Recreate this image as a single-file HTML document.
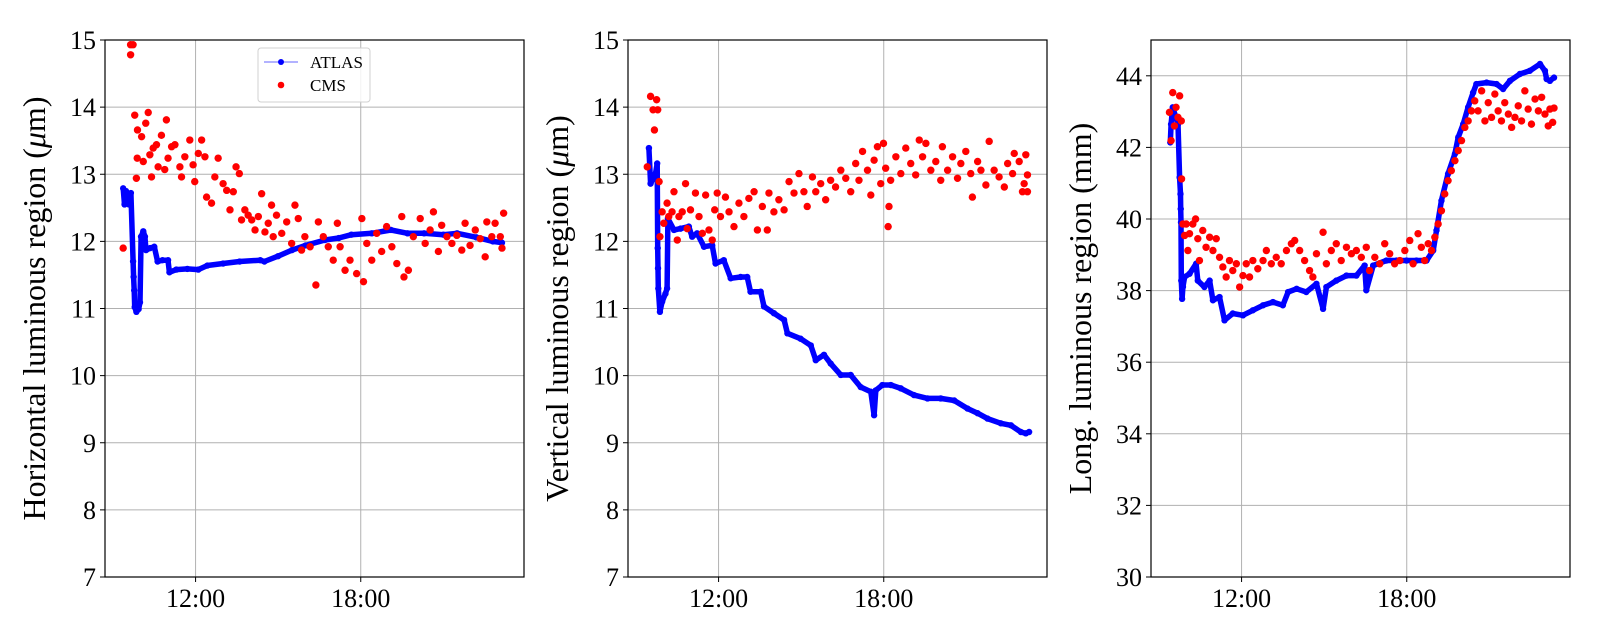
<!DOCTYPE html>
<html><head><meta charset="utf-8">
<style>
body{margin:0;background:#fff;}
svg{display:block;font-family:"Liberation Serif",serif;}
</style></head>
<body>
<svg id="chart" width="1600" height="640" viewBox="0 0 1600 640" xmlns="http://www.w3.org/2000/svg"></svg>
<script>
// ---------- data ----------
const xTickHours = [12, 18];
const xTickLabels = ["12:00", "18:00"];
const yTicks1 = [7,8,9,10,11,12,13,14,15];
const yTicks3 = [30,32,34,36,38,40,42,44];
const yLabelMain = ["Horizontal luminous region (", "Vertical luminous region (", "Long. luminous region (mm)"];
const yLabelUnit = ["\u03bc", "\u03bc", ""];
const yLabelTail = ["m)", "m)", ""];

const atlasH_t = [9.37,9.42,9.47,9.58,9.65,9.73,9.75,9.77,9.79,9.85,9.93,9.98,10.02,10.1,10.16,10.2,10.35,10.5,10.62,10.8,11.0,11.05,11.3,11.7,12.1,12.43,13.0,13.6,14.35,14.5,15.0,15.5,16.0,16.7,17.2,17.66,18.4,19.1,19.7,20.3,21.0,21.5,22.2,22.8,23.13];
const atlasH_v = [12.79,12.55,12.75,12.55,12.72,11.70,11.47,11.27,11.02,10.95,10.99,11.09,12.07,12.15,12.07,11.87,11.9,11.92,11.7,11.72,11.72,11.54,11.58,11.59,11.58,11.64,11.67,11.7,11.72,11.7,11.78,11.87,11.94,12.02,12.05,12.1,12.12,12.17,12.12,12.12,12.1,12.12,12.06,12.0,11.98];
const cmsH_t = [9.37,9.64,9.73,9.64,9.79,9.85,9.89,9.88,10.04,10.10,10.28,10.19,10.34,10.40,10.46,10.58,10.64,10.76,10.88,10.94,11.00,11.13,11.25,11.43,11.49,11.61,11.79,11.91,11.97,12.10,12.22,12.34,12.40,12.58,12.70,12.82,13.00,13.13,13.25,13.37,13.47,13.59,13.67,13.79,13.91,14.04,14.16,14.28,14.40,14.52,14.64,14.76,14.82,14.94,15.13,15.31,15.49,15.61,15.73,15.85,15.97,16.16,16.37,16.46,16.64,16.82,17.00,17.15,17.25,17.43,17.61,17.85,18.04,18.10,18.22,18.40,18.58,18.76,18.94,19.13,19.31,19.49,19.57,19.73,19.91,20.16,20.34,20.52,20.64,20.82,20.94,21.13,21.31,21.49,21.67,21.79,21.97,22.16,22.34,22.52,22.58,22.76,22.88,23.07,23.19,23.13];
const cmsH_v = [11.90,14.93,14.93,14.78,13.88,12.94,13.66,13.24,13.56,13.19,13.92,13.76,13.29,12.96,13.39,13.44,13.11,13.58,13.07,13.81,13.24,13.41,13.44,13.11,12.96,13.26,13.51,13.14,12.89,13.31,13.51,13.26,12.66,12.57,12.96,13.24,12.86,12.76,12.47,12.74,13.11,13.01,12.32,12.47,12.39,12.32,12.17,12.37,12.71,12.14,12.27,12.54,12.07,12.39,12.12,12.29,11.97,12.54,12.34,11.87,12.07,11.92,11.35,12.29,12.07,11.92,11.72,12.27,11.92,11.57,11.72,11.52,12.34,11.40,11.97,11.72,12.12,11.85,12.22,11.92,11.67,12.37,11.47,11.57,12.07,12.34,11.97,12.17,12.44,11.85,12.24,12.07,11.97,12.09,11.87,12.27,11.94,12.17,12.04,11.77,12.29,12.07,12.27,12.07,12.42,11.90];

const atlasV_t = [9.47,9.53,9.71,9.77,9.79,9.80,9.81,9.87,9.95,10.07,10.13,10.16,10.38,10.62,10.92,11.04,11.22,11.47,11.77,11.89,12.19,12.44,12.8,13.04,13.16,13.53,13.65,14.01,14.38,14.50,14.98,15.35,15.53,15.83,16.07,16.44,16.80,17.16,17.53,17.65,17.71,17.95,18.26,18.62,19.10,19.59,20.07,20.56,21.04,21.41,21.77,22.25,22.62,22.98,23.16,23.28];
const atlasV_v = [13.39,12.86,13.01,13.16,11.90,11.60,11.30,10.95,11.10,11.22,11.30,12.34,12.17,12.19,12.22,12.07,12.12,11.92,11.94,11.67,11.72,11.45,11.47,11.47,11.25,11.25,11.03,10.93,10.83,10.63,10.55,10.45,10.23,10.31,10.18,10.01,10.01,9.83,9.76,9.41,9.78,9.86,9.86,9.81,9.71,9.66,9.66,9.63,9.51,9.44,9.36,9.29,9.26,9.16,9.14,9.16];
const cmsV_t = [9.41,9.53,9.62,9.67,9.75,9.79,9.84,9.87,9.95,10.01,10.13,10.19,10.31,10.38,10.50,10.56,10.68,10.80,10.86,10.98,11.16,11.29,11.41,11.53,11.65,11.77,11.86,11.95,12.07,12.25,12.38,12.56,12.74,12.92,13.10,13.29,13.41,13.59,13.77,13.83,14.01,14.19,14.38,14.56,14.74,14.92,15.10,15.22,15.41,15.53,15.71,15.89,16.07,16.25,16.44,16.62,16.80,16.98,17.10,17.23,17.41,17.53,17.65,17.77,17.89,17.99,18.07,18.16,18.19,18.25,18.44,18.62,18.80,18.98,19.16,19.29,19.41,19.53,19.71,19.89,20.07,20.13,20.32,20.50,20.68,20.80,20.98,21.16,21.22,21.41,21.53,21.71,21.83,22.01,22.19,22.38,22.50,22.68,22.74,22.92,23.04,23.10,23.16,23.22,23.22];
const cmsV_v = [13.11,14.16,13.96,13.66,14.11,13.96,12.89,12.07,12.44,12.27,12.57,12.37,12.44,12.74,12.02,12.37,12.44,12.86,12.19,12.47,12.72,12.37,12.12,12.69,12.17,12.02,12.47,12.72,12.37,12.66,12.44,12.22,12.57,12.37,12.64,12.74,12.17,12.52,12.17,12.72,12.44,12.62,12.47,12.89,12.72,13.01,12.74,12.52,12.96,12.74,12.86,12.62,12.91,12.81,13.06,12.94,12.74,13.16,12.91,13.34,13.06,12.69,13.21,13.41,12.86,13.46,13.09,12.22,12.52,12.91,13.26,13.01,13.39,13.16,12.99,13.51,13.26,13.46,13.06,13.19,12.91,13.41,13.06,13.26,12.94,13.16,13.34,13.01,12.66,13.19,13.06,12.84,13.49,13.06,12.96,12.81,13.16,13.01,13.31,13.19,12.74,12.86,13.29,12.74,12.99];

const atlasL_t = [9.41,9.44,9.50,9.69,9.75,9.78,9.79,9.80,9.81,9.84,9.87,9.93,10.11,10.35,10.41,10.65,10.84,10.96,11.20,11.38,11.68,12.05,12.41,12.78,13.14,13.50,13.69,14.0,14.35,14.72,14.96,15.08,15.44,15.81,16.17,16.47,16.53,16.78,17.26,17.63,17.99,18.35,18.72,18.96,19.08,19.26,19.50,19.75,19.87,20.05,20.23,20.41,20.53,20.90,21.26,21.50,21.75,22.11,22.47,22.84,23.02,23.08,23.20,23.35];
const atlasL_v = [42.14,42.65,43.12,42.65,41.16,40.70,40.28,39.91,38.28,37.77,38.10,38.38,38.47,38.75,38.28,38.10,38.28,37.73,37.82,37.17,37.36,37.31,37.45,37.59,37.68,37.59,37.96,38.05,37.96,38.19,37.49,38.10,38.28,38.42,38.42,38.70,38.01,38.70,38.84,38.84,38.84,38.84,38.84,39.12,39.68,40.51,41.26,41.82,42.28,42.65,43.12,43.53,43.77,43.81,43.77,43.63,43.86,44.05,44.14,44.33,44.14,43.91,43.86,43.95];
const cmsL_t = [9.38,9.44,9.50,9.56,9.62,9.69,9.75,9.81,9.82,9.87,9.93,9.99,10.05,10.11,10.23,10.33,10.41,10.47,10.59,10.71,10.84,10.96,11.08,11.20,11.32,11.44,11.56,11.68,11.81,11.93,12.05,12.17,12.29,12.41,12.59,12.78,12.90,13.08,13.26,13.44,13.63,13.81,13.93,14.11,14.29,14.47,14.59,14.72,14.96,15.08,15.26,15.44,15.62,15.81,15.99,16.17,16.35,16.53,16.65,16.84,17.02,17.20,17.38,17.56,17.75,17.93,18.11,18.23,18.41,18.53,18.65,18.78,18.90,19.02,19.14,19.26,19.38,19.50,19.62,19.75,19.87,19.99,20.11,20.23,20.35,20.47,20.59,20.72,20.84,20.96,21.08,21.20,21.32,21.44,21.56,21.69,21.81,21.93,22.05,22.17,22.29,22.41,22.53,22.66,22.78,22.90,23.02,23.14,23.20,23.30,23.35];
const cmsL_v = [42.98,42.19,43.53,42.60,43.12,42.84,43.44,42.74,41.12,39.86,39.54,39.86,39.12,39.59,39.86,40.00,39.45,38.84,39.68,39.21,39.49,39.12,39.45,38.93,38.66,38.38,38.84,38.56,38.75,38.10,38.42,38.75,38.38,38.84,38.61,38.84,39.12,38.75,38.93,38.75,39.12,39.31,39.40,39.12,38.84,38.56,38.38,39.03,39.63,38.75,39.12,39.31,38.84,39.21,39.03,39.12,38.93,39.21,38.56,38.93,38.75,39.31,39.03,38.75,38.84,39.12,39.40,38.75,39.59,39.21,38.84,39.31,39.12,39.49,39.86,40.23,40.70,41.07,41.35,41.63,41.91,42.19,42.56,42.74,43.02,43.30,43.02,43.58,42.74,43.25,42.84,43.49,43.02,42.74,43.25,42.93,42.56,42.84,43.16,42.74,43.58,43.07,42.65,43.35,43.02,43.40,42.93,42.60,43.07,42.70,43.10];

// ---------- drawing ----------
const NS = "http://www.w3.org/2000/svg";
const svg = document.getElementById("chart");
const X0 = 8.71, X1 = 23.93;
const panels = [
  {left:105, yMin:7, yMax:15, ticks:yTicks1, li:0, atlas:[atlasH_t, atlasH_v], cms:[cmsH_t, cmsH_v], legend:true, key:"horizontal"},
  {left:628, yMin:7, yMax:15, ticks:yTicks1, li:1, atlas:[atlasV_t, atlasV_v], cms:[cmsV_t, cmsV_v], legend:false, key:"vertical"},
  {left:1151, yMin:30, yMax:45, ticks:yTicks3, li:2, atlas:[atlasL_t, atlasL_v], cms:[cmsL_t, cmsL_v], legend:false, key:"longitudinal"}
];
const W = 419, TOP = 40, BOT = 577;

function mk(tag, attrs, parent){
  const e = document.createElementNS(NS, tag);
  for (const k in attrs) e.setAttribute(k, attrs[k]);
  (parent || svg).appendChild(e);
  return e;
}

panels.forEach(p => {
  const xs = h => p.left + (h - X0) / (X1 - X0) * W;
  const ys = v => BOT - (v - p.yMin) / (p.yMax - p.yMin) * (BOT - TOP);
  const g = mk("g", {});
  
  

  p.ticks.forEach(t => {
    const y = ys(t);
    const ln = mk("line", {x1:p.left, x2:p.left+W, y1:y, y2:y, stroke:"#b0b0b0", "stroke-width":1}, g);
    
    
    const tk = mk("line", {x1:p.left-5, x2:p.left, y1:y, y2:y, stroke:"#000", "stroke-width":1}, g);
    
    
    const tx = mk("text", {x:p.left-9, y:y+9, "text-anchor":"end", "font-size":26, fill:"#000"}, g);
    
    
    tx.textContent = t;
  });
  xTickHours.forEach((h, i) => {
    const x = xs(h);
    const ln = mk("line", {x1:x, x2:x, y1:TOP, y2:BOT, stroke:"#b0b0b0", "stroke-width":1}, g);
    
    
    const tk = mk("line", {x1:x, x2:x, y1:BOT, y2:BOT+5, stroke:"#000", "stroke-width":1}, g);
    
    
    const tx = mk("text", {x:x, y:BOT+30, "text-anchor":"middle", "font-size":26, fill:"#000"}, g);
    
    
    tx.textContent = xTickLabels[i];
  });

  const lx = p.left - 60, ly = (TOP + BOT) / 2;
  const yl = mk("text", {x:lx, y:ly, "text-anchor":"middle", "font-size":32, fill:"#000", transform:`rotate(-90 ${lx} ${ly})`}, g);
  
  
  const s1 = mk("tspan", {}, yl); s1.textContent = yLabelMain[p.li];
  if (yLabelUnit[p.li]) {
    const s2 = mk("tspan", {"font-style":"italic"}, yl); s2.textContent = yLabelUnit[p.li];
    const s3 = mk("tspan", {}, yl); s3.textContent = yLabelTail[p.li];
  }

  const [at, av] = p.atlas;
  const pts = at.map((t, i) => xs(t).toFixed(1) + "," + ys(av[i]).toFixed(1)).join(" ");
  const band = mk("polyline", {points:pts, fill:"none", stroke:"#0000ff", "stroke-width":5.5, "stroke-linejoin":"round", "stroke-linecap":"round"}, g);
  
  
  at.forEach((t, i) => {
    const c = mk("circle", {cx:xs(t), cy:ys(av[i]), r:3.2, fill:"#0000ff"}, g);
    
    
  });
  const [ct, cv] = p.cms;
  ct.forEach((t, i) => {
    const c = mk("circle", {cx:xs(t), cy:ys(cv[i]), r:3.7, fill:"#ff0000"}, g);
    
    
  });

  const fr = mk("rect", {x:p.left, y:TOP, width:W, height:BOT-TOP, fill:"none", stroke:"#000", "stroke-width":1.2}, g);
  
  

  if (p.legend) {
    const lg = mk("g", {}, g);
    
    
    mk("rect", {x:258, y:48, width:112, height:54, rx:3, fill:"#fff", "fill-opacity":0.85, stroke:"#d0d0d0"}, lg);
    const l1 = mk("line", {x1:264, x2:298, y1:62, y2:62, stroke:"#0000ff", "stroke-opacity":0.6, "stroke-width":1}, lg);
    
    
    mk("circle", {cx:281, cy:62, r:3, fill:"#0000ff"}, lg);
    const t1 = mk("text", {x:310, y:68, "font-size":17, fill:"#000"}, lg);
    
    
    t1.textContent = "ATLAS";
    const d2 = mk("circle", {cx:281, cy:85, r:3.3, fill:"#ff0000"}, lg);
    
    
    const t2 = mk("text", {x:310, y:91, "font-size":17, fill:"#000"}, lg);
    
    
    t2.textContent = "CMS";
  }
});
</script>
</body></html>
